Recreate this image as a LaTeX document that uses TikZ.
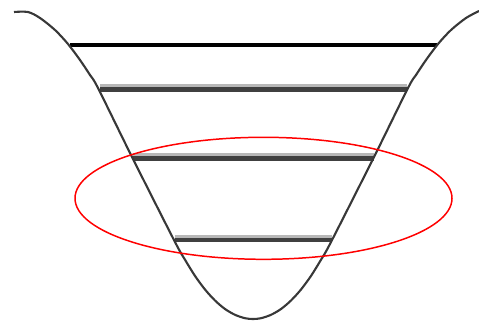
\documentclass[tikz,border=0pt]{standalone}
\begin{document}
\begin{tikzpicture}[
    x=0.02cm,
    y=-0.02cm,
    well/.style={draw=black!78, line width=1.2pt, line join=round},
    ground/.style={draw=black, line width=2.3pt},
    shade/.style={draw=black!28, line width=1.8pt},
    band/.style={draw=black!75, line width=2.4pt},
    marker/.style={draw=red, line width=0.85pt}
]
\useasboundingbox (0,0) rectangle (479,321);
\coordinate (g1) at (70,44.7);
\coordinate (g2) at (437,44.7);
\draw[ground] (g1) -- (g2);
\foreach \xl/\xr/\yt in {100/407/84.3, 133/374/153.3, 175/332/235}{
    \draw[shade] (\xl,\yt+1.6) -- (\xr,\yt+1.6);
    \draw[band] (\xl,\yt+5.3) -- (\xr,\yt+5.3);
}
\draw[well] plot[smooth, tension=0.5] coordinates {(14,12) (28,12) (40,18) (55,30) (68,44) (80,60) (90,75) (98,88) (132,157) (175,242)
    (185,259.7) (195,275.9) (205,289.5) (215,300.5) (225,309) (235,314.8) (245,318.2) (253,319)
    (261,318.2) (271,314.8) (281,309) (291,300.5) (301,289.5) (311,275.9) (321,259.7)
    (331,242) (374,157) (408,88) (416,75) (426,60) (438,44) (451,30) (466,18) (479,11)};
\coordinate (c) at (263.5,198.3);
\draw[marker] (c) ellipse [x radius=188.5, y radius=61];
\end{tikzpicture}
\end{document}
